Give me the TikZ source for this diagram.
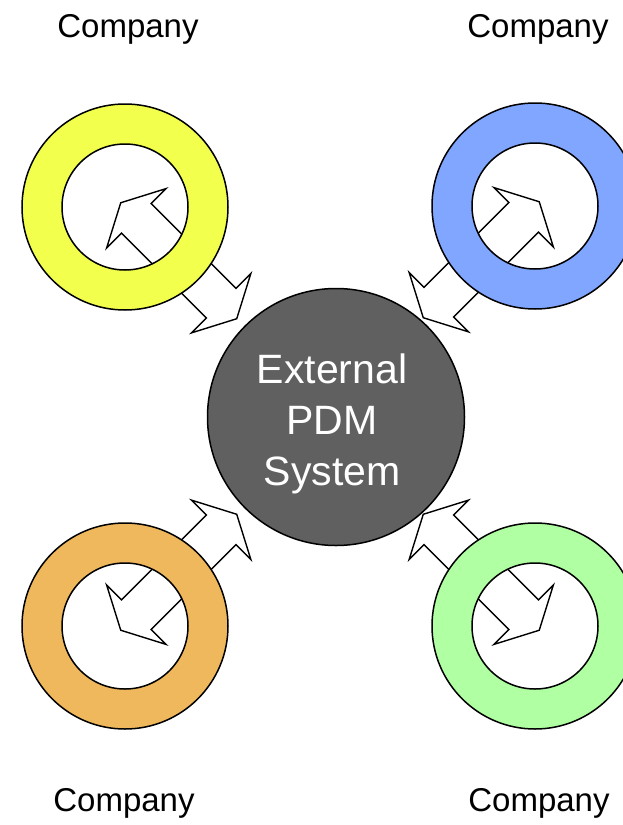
\documentclass[tikz,border=0pt]{standalone}
\usepackage{fontspec}
\setmainfont{Liberation Sans}
\usetikzlibrary{positioning}
\definecolor{ringyellow}{RGB}{242,255,77}
\definecolor{ringblue}{RGB}{128,166,255}
\definecolor{ringorange}{RGB}{240,184,92}
\definecolor{ringgreen}{RGB}{176,255,162}
\definecolor{pdmgray}{RGB}{96,96,96}
\tikzset{
  ring/.style={draw=black, line width=1.5pt, even odd rule},
  swaparrow/.style={draw=black, fill=white, line width=1.4pt, line join=miter},
  company/.style={font=\fontsize{33}{40}\selectfont, anchor=base},
  pdm/.style={circle, draw=black, line width=1.5pt, fill=pdmgray, minimum size=257pt, inner sep=0pt},
  pdmtext/.style={text=white, align=center, font=\fontsize{41}{51}\selectfont},
}
\begin{document}
\begin{tikzpicture}[x=1pt,y=-1pt]
\useasboundingbox (0,0) rectangle (623,825);
% the external system in the middle
\node[pdm] (pdm) at (336,417) {};
\node[pdmtext] (pdmlabel) at ([xshift=-4pt,yshift=-7pt]pdm.center) {External\\PDM\\System};
% the four companies, each with its exchange arrow
\foreach \cx/\cy/\col/\ang/\lx/\ly/\nm in {125/207/ringyellow/-45/128/37/cya,
                                          535/206/ringblue/-135/538/37/cyb,
                                          125/626/ringorange/45/124/811/cyc,
                                          535/626/ringgreen/135/539/811/cyd}{
  \coordinate (\nm) at (\cx,\cy);
  \begin{scope}[shift={(\nm)}, rotate=\ang]
    \draw[swaparrow] (-6,0) -- (16,-42) -- (16,-21) -- (136,-21) -- (136,-42)
      -- (158,0) -- (136,42) -- (136,21) -- (16,21) -- (16,42) -- cycle;
  \end{scope}
  \path[ring, fill=\col] (\nm) circle[radius=103] (\nm) circle[radius=63];
  \node[company] (\nm label) at (\lx,\ly) {Company};
}
\end{tikzpicture}
\end{document}
